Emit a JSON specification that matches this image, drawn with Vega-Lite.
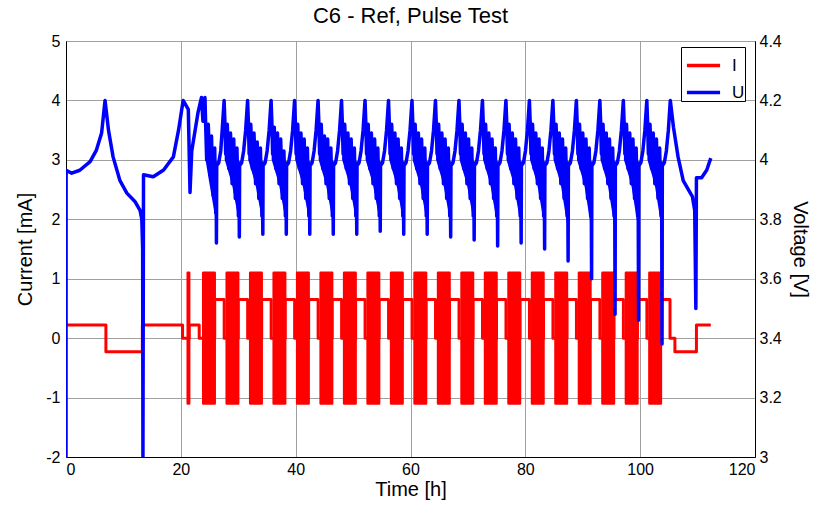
{
"$schema":"https://vega.github.io/schema/vega-lite/v6.json",
"width":689,"height":416,
"autosize":{"type":"none"},
"padding":{"left":66,"top":41,"right":58,"bottom":50},
"background":"white",
"title":{"text":"C6 - Ref, Pulse Test","fontSize":22,"font":"Liberation Sans","fontWeight":"normal","color":"#000","offset":5},
"config":{
 "view":{"stroke":"#000","strokeWidth":1},
 "axis":{"labelFont":"Liberation Sans","titleFont":"Liberation Sans","labelFontSize":16,"titleFontSize":20,"titleFontWeight":"normal","labelColor":"#000","titleColor":"#000","domainColor":"#000","ticks":false,"gridColor":"#a0a0a0","gridOpacity":1,"gridWidth":1},
 "legend":{"labelFont":"Liberation Sans"}
},
"datasets":{
"blk":[{"a":21.2,"b":21.45},{"a":23.9,"b":25.9},{"a":27.99,"b":29.99},{"a":32.08,"b":34.08},{"a":36.17,"b":38.17},{"a":40.26,"b":42.26},{"a":44.35,"b":46.35},{"a":48.44,"b":50.44},{"a":52.53,"b":54.53},{"a":56.62,"b":58.62},{"a":60.71,"b":62.71},{"a":64.8,"b":66.8},{"a":68.89,"b":70.89},{"a":72.98,"b":74.98},{"a":77.07,"b":79.07},{"a":81.16,"b":83.16},{"a":85.25,"b":87.25},{"a":89.34,"b":91.34},{"a":93.43,"b":95.43},{"a":97.52,"b":99.52},{"a":101.61,"b":103.61}],
"band":[
{"k":0,"t":24.3,"hi":4.1,"lo":4.0},{"k":0,"t":24.9,"hi":4.07,"lo":3.93},{"k":0,"t":26.05,"hi":4.0,"lo":3.8},
{"k":1,"t":27.64,"hi":4.11,"lo":4.0},{"k":1,"t":28.89,"hi":4.07,"lo":3.92},{"k":1,"t":30.04,"hi":4.0,"lo":3.8},
{"k":2,"t":31.73,"hi":4.11,"lo":4.0},{"k":2,"t":32.98,"hi":4.07,"lo":3.92},{"k":2,"t":34.13,"hi":4.0,"lo":3.8},
{"k":3,"t":35.82,"hi":4.11,"lo":4.0},{"k":3,"t":37.07,"hi":4.07,"lo":3.92},{"k":3,"t":38.22,"hi":4.0,"lo":3.8},
{"k":4,"t":39.91,"hi":4.11,"lo":4.0},{"k":4,"t":41.16,"hi":4.07,"lo":3.92},{"k":4,"t":42.31,"hi":4.0,"lo":3.8},
{"k":5,"t":44.0,"hi":4.11,"lo":4.0},{"k":5,"t":45.25,"hi":4.07,"lo":3.92},{"k":5,"t":46.4,"hi":4.0,"lo":3.8},
{"k":6,"t":48.09,"hi":4.11,"lo":4.0},{"k":6,"t":49.34,"hi":4.07,"lo":3.92},{"k":6,"t":50.49,"hi":4.0,"lo":3.8},
{"k":7,"t":52.18,"hi":4.11,"lo":4.0},{"k":7,"t":53.43,"hi":4.07,"lo":3.92},{"k":7,"t":54.58,"hi":4.0,"lo":3.8},
{"k":8,"t":56.27,"hi":4.11,"lo":4.0},{"k":8,"t":57.52,"hi":4.07,"lo":3.92},{"k":8,"t":58.67,"hi":4.0,"lo":3.8},
{"k":9,"t":60.36,"hi":4.11,"lo":4.0},{"k":9,"t":61.61,"hi":4.07,"lo":3.92},{"k":9,"t":62.76,"hi":4.0,"lo":3.8},
{"k":10,"t":64.45,"hi":4.11,"lo":4.0},{"k":10,"t":65.7,"hi":4.07,"lo":3.92},{"k":10,"t":66.85,"hi":4.0,"lo":3.8},
{"k":11,"t":68.54,"hi":4.11,"lo":4.0},{"k":11,"t":69.79,"hi":4.07,"lo":3.92},{"k":11,"t":70.94,"hi":4.0,"lo":3.8},
{"k":12,"t":72.63,"hi":4.11,"lo":4.0},{"k":12,"t":73.88,"hi":4.07,"lo":3.92},{"k":12,"t":75.03,"hi":4.0,"lo":3.79},
{"k":13,"t":76.72,"hi":4.11,"lo":4.0},{"k":13,"t":77.97,"hi":4.07,"lo":3.92},{"k":13,"t":79.12,"hi":4.0,"lo":3.79},
{"k":14,"t":80.81,"hi":4.11,"lo":4.0},{"k":14,"t":82.06,"hi":4.07,"lo":3.92},{"k":14,"t":83.21,"hi":4.0,"lo":3.79},
{"k":15,"t":84.9,"hi":4.11,"lo":4.0},{"k":15,"t":86.15,"hi":4.07,"lo":3.92},{"k":15,"t":87.3,"hi":4.0,"lo":3.78},
{"k":16,"t":88.99,"hi":4.11,"lo":4.0},{"k":16,"t":90.24,"hi":4.07,"lo":3.92},{"k":16,"t":91.39,"hi":4.0,"lo":3.78},
{"k":17,"t":93.08,"hi":4.11,"lo":4.0},{"k":17,"t":94.33,"hi":4.07,"lo":3.92},{"k":17,"t":95.48,"hi":4.0,"lo":3.78},
{"k":18,"t":97.17,"hi":4.11,"lo":4.0},{"k":18,"t":98.42,"hi":4.07,"lo":3.92},{"k":18,"t":99.57,"hi":4.0,"lo":3.78},
{"k":19,"t":101.26,"hi":4.11,"lo":4.0},{"k":19,"t":102.51,"hi":4.07,"lo":3.92},{"k":19,"t":103.66,"hi":4.0,"lo":3.78}],
"cur":[{"t":0,"i":0.22},{"t":6.95,"i":0.22},{"t":6.95,"i":-0.23},{"t":13.3,"i":-0.23},{"t":13.3,"i":0.22},{"t":20.3,"i":0.22},{"t":20.3,"i":0},{"t":21.45,"i":0},{"t":21.45,"i":0.22},{"t":23.2,"i":0.22},{"t":23.2,"i":0},
{"t":23.9,"i":0},{"t":25.9,"i":0},{"t":25.9,"i":0.65},{"t":27.55,"i":0.65},{"t":27.55,"i":0},
{"t":27.99,"i":0},{"t":29.99,"i":0},{"t":29.99,"i":0.65},{"t":31.64,"i":0.65},{"t":31.64,"i":0},
{"t":32.08,"i":0},{"t":34.08,"i":0},{"t":34.08,"i":0.65},{"t":35.73,"i":0.65},{"t":35.73,"i":0},
{"t":36.17,"i":0},{"t":38.17,"i":0},{"t":38.17,"i":0.65},{"t":39.82,"i":0.65},{"t":39.82,"i":0},
{"t":40.26,"i":0},{"t":42.26,"i":0},{"t":42.26,"i":0.65},{"t":43.91,"i":0.65},{"t":43.91,"i":0},
{"t":44.35,"i":0},{"t":46.35,"i":0},{"t":46.35,"i":0.65},{"t":48.0,"i":0.65},{"t":48.0,"i":0},
{"t":48.44,"i":0},{"t":50.44,"i":0},{"t":50.44,"i":0.65},{"t":52.09,"i":0.65},{"t":52.09,"i":0},
{"t":52.53,"i":0},{"t":54.53,"i":0},{"t":54.53,"i":0.65},{"t":56.18,"i":0.65},{"t":56.18,"i":0},
{"t":56.62,"i":0},{"t":58.62,"i":0},{"t":58.62,"i":0.65},{"t":60.27,"i":0.65},{"t":60.27,"i":0},
{"t":60.71,"i":0},{"t":62.71,"i":0},{"t":62.71,"i":0.65},{"t":64.36,"i":0.65},{"t":64.36,"i":0},
{"t":64.8,"i":0},{"t":66.8,"i":0},{"t":66.8,"i":0.65},{"t":68.45,"i":0.65},{"t":68.45,"i":0},
{"t":68.89,"i":0},{"t":70.89,"i":0},{"t":70.89,"i":0.65},{"t":72.54,"i":0.65},{"t":72.54,"i":0},
{"t":72.98,"i":0},{"t":74.98,"i":0},{"t":74.98,"i":0.65},{"t":76.63,"i":0.65},{"t":76.63,"i":0},
{"t":77.07,"i":0},{"t":79.07,"i":0},{"t":79.07,"i":0.65},{"t":80.72,"i":0.65},{"t":80.72,"i":0},
{"t":81.16,"i":0},{"t":83.16,"i":0},{"t":83.16,"i":0.65},{"t":84.81,"i":0.65},{"t":84.81,"i":0},
{"t":85.25,"i":0},{"t":87.25,"i":0},{"t":87.25,"i":0.65},{"t":88.9,"i":0.65},{"t":88.9,"i":0},
{"t":89.34,"i":0},{"t":91.34,"i":0},{"t":91.34,"i":0.65},{"t":92.99,"i":0.65},{"t":92.99,"i":0},
{"t":93.43,"i":0},{"t":95.43,"i":0},{"t":95.43,"i":0.65},{"t":97.08,"i":0.65},{"t":97.08,"i":0},
{"t":97.52,"i":0},{"t":99.52,"i":0},{"t":99.52,"i":0.65},{"t":101.17,"i":0.65},{"t":101.17,"i":0},
{"t":101.61,"i":0},{"t":103.61,"i":0},{"t":103.61,"i":0.65},{"t":105.2,"i":0.65},{"t":105.2,"i":0},{"t":106.05,"i":0},{"t":106.05,"i":-0.23},{"t":109.8,"i":-0.23},{"t":109.8,"i":0.22},{"t":112.3,"i":0.22}],
"volt":[{"t":0,"v":3.0},{"t":0.02,"v":3.965},{"t":1.0,"v":3.955},{"t":2.4,"v":3.965},{"t":4.2,"v":3.994},{"t":5.3,"v":4.033},{"t":6.2,"v":4.09},{"t":6.8,"v":4.2},{"t":7.4,"v":4.1},{"t":8.2,"v":4.01},{"t":9.4,"v":3.93},{"t":10.6,"v":3.888},{"t":12.0,"v":3.86},{"t":12.9,"v":3.83},{"t":13.2,"v":3.8},{"t":13.35,"v":3.7},{"t":13.4,"v":3.0},{"t":13.5,"v":3.95},{"t":15.2,"v":3.943},{"t":17.0,"v":3.966},{"t":18.7,"v":4.01},{"t":19.6,"v":4.1},{"t":20.4,"v":4.2},{"t":21.3,"v":4.17},{"t":21.6,"v":3.89},{"t":21.9,"v":4.03},{"t":23.0,"v":4.16},
{"t":23.6,"v":4.21},{"t":23.85,"v":4.13},{"t":24.2,"v":4.21},{"t":24.35,"v":4.1},{"t":24.5,"v":4.0},{"t":24.78,"v":4.12},{"t":25.06,"v":3.95},{"t":25.34,"v":4.08},{"t":25.62,"v":3.88},{"t":25.9,"v":4.04},{"t":26.08,"v":3.82},{"t":26.14,"v":3.99},{"t":26.2,"v":3.72},{"t":26.25,"v":3.98},{"t":26.6,"v":3.99},{"t":26.95,"v":4.03},{"t":27.2,"v":4.1},
{"t":27.54,"v":4.2},{"t":27.67,"v":4.13},{"t":27.81,"v":4.02},{"t":28.09,"v":4.12},{"t":28.37,"v":3.97},{"t":28.65,"v":4.09},{"t":28.93,"v":3.92},{"t":29.21,"v":4.07},{"t":29.49,"v":3.87},{"t":29.77,"v":4.04},{"t":30.03,"v":3.81},{"t":30.11,"v":3.99},{"t":30.19,"v":3.74},{"t":30.24,"v":3.98},{"t":30.59,"v":3.99},{"t":30.94,"v":4.03},{"t":31.29,"v":4.1},
{"t":31.63,"v":4.2},{"t":31.76,"v":4.13},{"t":31.9,"v":4.02},{"t":32.18,"v":4.12},{"t":32.46,"v":3.97},{"t":32.74,"v":4.09},{"t":33.02,"v":3.92},{"t":33.3,"v":4.06},{"t":33.58,"v":3.87},{"t":33.86,"v":4.04},{"t":34.12,"v":3.81},{"t":34.2,"v":3.99},{"t":34.28,"v":3.75},{"t":34.33,"v":3.98},{"t":34.68,"v":3.99},{"t":35.03,"v":4.03},{"t":35.38,"v":4.1},
{"t":35.72,"v":4.2},{"t":35.85,"v":4.13},{"t":35.99,"v":4.02},{"t":36.27,"v":4.11},{"t":36.55,"v":3.97},{"t":36.83,"v":4.09},{"t":37.11,"v":3.92},{"t":37.39,"v":4.07},{"t":37.67,"v":3.87},{"t":37.95,"v":4.03},{"t":38.21,"v":3.81},{"t":38.29,"v":3.99},{"t":38.37,"v":3.75},{"t":38.42,"v":3.98},{"t":38.77,"v":3.99},{"t":39.12,"v":4.03},{"t":39.47,"v":4.1},
{"t":39.81,"v":4.2},{"t":39.94,"v":4.13},{"t":40.08,"v":4.02},{"t":40.36,"v":4.12},{"t":40.64,"v":3.97},{"t":40.92,"v":4.09},{"t":41.2,"v":3.92},{"t":41.48,"v":4.07},{"t":41.76,"v":3.87},{"t":42.04,"v":4.04},{"t":42.3,"v":3.81},{"t":42.38,"v":3.99},{"t":42.46,"v":3.75},{"t":42.51,"v":3.98},{"t":42.86,"v":3.99},{"t":43.21,"v":4.03},{"t":43.56,"v":4.1},
{"t":43.9,"v":4.2},{"t":44.03,"v":4.13},{"t":44.17,"v":4.02},{"t":44.45,"v":4.12},{"t":44.73,"v":3.97},{"t":45.01,"v":4.08},{"t":45.29,"v":3.92},{"t":45.57,"v":4.07},{"t":45.85,"v":3.87},{"t":46.13,"v":4.04},{"t":46.39,"v":3.81},{"t":46.47,"v":3.99},{"t":46.55,"v":3.75},{"t":46.6,"v":3.98},{"t":46.95,"v":3.99},{"t":47.3,"v":4.03},{"t":47.65,"v":4.1},
{"t":47.99,"v":4.2},{"t":48.12,"v":4.13},{"t":48.26,"v":4.02},{"t":48.54,"v":4.12},{"t":48.82,"v":3.97},{"t":49.1,"v":4.09},{"t":49.38,"v":3.92},{"t":49.66,"v":4.07},{"t":49.94,"v":3.87},{"t":50.22,"v":4.04},{"t":50.48,"v":3.81},{"t":50.56,"v":3.99},{"t":50.64,"v":3.75},{"t":50.69,"v":3.98},{"t":51.04,"v":3.99},{"t":51.39,"v":4.03},{"t":51.74,"v":4.1},
{"t":52.08,"v":4.2},{"t":52.21,"v":4.13},{"t":52.35,"v":4.02},{"t":52.63,"v":4.12},{"t":52.91,"v":3.97},{"t":53.19,"v":4.09},{"t":53.47,"v":3.92},{"t":53.75,"v":4.07},{"t":54.03,"v":3.87},{"t":54.31,"v":4.04},{"t":54.57,"v":3.81},{"t":54.65,"v":3.99},{"t":54.73,"v":3.76},{"t":54.78,"v":3.98},{"t":55.13,"v":3.99},{"t":55.48,"v":4.03},{"t":55.83,"v":4.1},
{"t":56.17,"v":4.2},{"t":56.3,"v":4.13},{"t":56.44,"v":4.02},{"t":56.72,"v":4.12},{"t":57.0,"v":3.97},{"t":57.28,"v":4.09},{"t":57.56,"v":3.92},{"t":57.84,"v":4.07},{"t":58.12,"v":3.87},{"t":58.4,"v":4.04},{"t":58.66,"v":3.81},{"t":58.74,"v":3.99},{"t":58.82,"v":3.75},{"t":58.87,"v":3.98},{"t":59.22,"v":3.99},{"t":59.57,"v":4.03},{"t":59.92,"v":4.1},
{"t":60.26,"v":4.2},{"t":60.39,"v":4.13},{"t":60.53,"v":4.02},{"t":60.81,"v":4.12},{"t":61.09,"v":3.97},{"t":61.37,"v":4.09},{"t":61.65,"v":3.92},{"t":61.93,"v":4.07},{"t":62.21,"v":3.87},{"t":62.49,"v":4.04},{"t":62.75,"v":3.81},{"t":62.83,"v":3.99},{"t":62.91,"v":3.75},{"t":62.96,"v":3.98},{"t":63.31,"v":3.99},{"t":63.66,"v":4.03},{"t":64.01,"v":4.1},
{"t":64.35,"v":4.2},{"t":64.48,"v":4.13},{"t":64.62,"v":4.02},{"t":64.9,"v":4.12},{"t":65.18,"v":3.97},{"t":65.46,"v":4.09},{"t":65.74,"v":3.92},{"t":66.02,"v":4.07},{"t":66.3,"v":3.87},{"t":66.58,"v":4.04},{"t":66.84,"v":3.81},{"t":66.92,"v":3.99},{"t":67.0,"v":3.74},{"t":67.05,"v":3.98},{"t":67.4,"v":3.99},{"t":67.75,"v":4.03},{"t":68.1,"v":4.1},
{"t":68.44,"v":4.2},{"t":68.57,"v":4.13},{"t":68.71,"v":4.02},{"t":68.99,"v":4.12},{"t":69.27,"v":3.97},{"t":69.55,"v":4.09},{"t":69.83,"v":3.92},{"t":70.11,"v":4.07},{"t":70.39,"v":3.87},{"t":70.67,"v":4.04},{"t":70.93,"v":3.81},{"t":71.01,"v":3.99},{"t":71.09,"v":3.73},{"t":71.14,"v":3.98},{"t":71.49,"v":3.99},{"t":71.84,"v":4.03},{"t":72.19,"v":4.1},
{"t":72.53,"v":4.2},{"t":72.66,"v":4.13},{"t":72.8,"v":4.02},{"t":73.08,"v":4.12},{"t":73.36,"v":3.97},{"t":73.64,"v":4.09},{"t":73.92,"v":3.92},{"t":74.2,"v":4.07},{"t":74.48,"v":3.87},{"t":74.76,"v":4.04},{"t":75.02,"v":3.81},{"t":75.1,"v":3.99},{"t":75.18,"v":3.71},{"t":75.23,"v":3.98},{"t":75.58,"v":3.99},{"t":75.93,"v":4.03},{"t":76.28,"v":4.1},
{"t":76.62,"v":4.2},{"t":76.75,"v":4.13},{"t":76.89,"v":4.02},{"t":77.17,"v":4.12},{"t":77.45,"v":3.97},{"t":77.73,"v":4.09},{"t":78.01,"v":3.92},{"t":78.29,"v":4.07},{"t":78.57,"v":3.87},{"t":78.85,"v":4.04},{"t":79.11,"v":3.81},{"t":79.19,"v":3.99},{"t":79.27,"v":3.72},{"t":79.32,"v":3.98},{"t":79.67,"v":3.99},{"t":80.02,"v":4.03},{"t":80.37,"v":4.1},
{"t":80.71,"v":4.2},{"t":80.84,"v":4.13},{"t":80.98,"v":4.02},{"t":81.26,"v":4.12},{"t":81.54,"v":3.97},{"t":81.82,"v":4.09},{"t":82.1,"v":3.92},{"t":82.38,"v":4.07},{"t":82.66,"v":3.87},{"t":82.94,"v":4.04},{"t":83.2,"v":3.81},{"t":83.28,"v":3.99},{"t":83.36,"v":3.7},{"t":83.41,"v":3.98},{"t":83.76,"v":3.99},{"t":84.11,"v":4.03},{"t":84.46,"v":4.1},
{"t":84.8,"v":4.2},{"t":84.93,"v":4.13},{"t":85.07,"v":4.02},{"t":85.35,"v":4.12},{"t":85.63,"v":3.97},{"t":85.91,"v":4.09},{"t":86.19,"v":3.92},{"t":86.47,"v":4.07},{"t":86.75,"v":3.87},{"t":87.03,"v":4.04},{"t":87.29,"v":3.81},{"t":87.37,"v":3.99},{"t":87.45,"v":3.66},{"t":87.5,"v":3.98},{"t":87.85,"v":3.99},{"t":88.2,"v":4.03},{"t":88.55,"v":4.1},
{"t":88.89,"v":4.2},{"t":89.02,"v":4.13},{"t":89.16,"v":4.02},{"t":89.44,"v":4.12},{"t":89.72,"v":3.97},{"t":90.0,"v":4.09},{"t":90.28,"v":3.92},{"t":90.56,"v":4.07},{"t":90.84,"v":3.87},{"t":91.12,"v":4.04},{"t":91.38,"v":3.81},{"t":91.46,"v":3.99},{"t":91.54,"v":3.6},{"t":91.59,"v":3.98},{"t":91.94,"v":3.99},{"t":92.29,"v":4.03},{"t":92.64,"v":4.1},
{"t":92.98,"v":4.2},{"t":93.11,"v":4.13},{"t":93.25,"v":4.02},{"t":93.53,"v":4.12},{"t":93.81,"v":3.97},{"t":94.09,"v":4.09},{"t":94.37,"v":3.92},{"t":94.65,"v":4.07},{"t":94.93,"v":3.87},{"t":95.21,"v":4.04},{"t":95.47,"v":3.81},{"t":95.55,"v":3.99},{"t":95.63,"v":3.48},{"t":95.68,"v":3.98},{"t":96.03,"v":3.99},{"t":96.38,"v":4.03},{"t":96.73,"v":4.1},
{"t":97.07,"v":4.2},{"t":97.2,"v":4.13},{"t":97.34,"v":4.02},{"t":97.62,"v":4.12},{"t":97.9,"v":3.97},{"t":98.18,"v":4.09},{"t":98.46,"v":3.92},{"t":98.74,"v":4.07},{"t":99.02,"v":3.87},{"t":99.3,"v":4.04},{"t":99.56,"v":3.81},{"t":99.64,"v":3.99},{"t":99.72,"v":3.46},{"t":99.77,"v":3.98},{"t":100.12,"v":3.99},{"t":100.47,"v":4.03},{"t":100.82,"v":4.1},
{"t":101.16,"v":4.2},{"t":101.29,"v":4.13},{"t":101.43,"v":4.02},{"t":101.71,"v":4.12},{"t":101.99,"v":3.97},{"t":102.27,"v":4.09},{"t":102.55,"v":3.92},{"t":102.83,"v":4.07},{"t":103.11,"v":3.87},{"t":103.39,"v":4.04},{"t":103.65,"v":3.81},{"t":103.73,"v":3.99},{"t":103.81,"v":3.38},{"t":103.86,"v":3.98},{"t":104.21,"v":3.99},{"t":104.56,"v":4.03},{"t":104.91,"v":4.1},
{"t":105.25,"v":4.2},{"t":105.8,"v":4.11},{"t":106.6,"v":4.01},{"t":107.5,"v":3.93},{"t":108.4,"v":3.9},{"t":109.1,"v":3.876},{"t":109.5,"v":3.83},{"t":109.7,"v":3.5},{"t":109.8,"v":3.94},{"t":110.7,"v":3.94},{"t":111.6,"v":3.966},{"t":112.3,"v":4.006}]
},
"layer":[
 {"layer":[
  {"data":{"name":"blk"},
   "mark":{"type":"rect","color":"#ff0000","stroke":"#ff0000","strokeWidth":2.5,"strokeJoin":"round","clip":true},
   "encoding":{
    "x":{"field":"a","type":"quantitative","scale":{"domain":[0,120],"nice":false,"zero":false},"axis":{"values":[0,20,40,60,80,100,120],"title":"Time [h]","grid":true,"labelPadding":4,"titlePadding":2}},
    "x2":{"field":"b"},
    "y":{"datum":1.1,"type":"quantitative","scale":{"domain":[-2,5],"nice":false,"zero":false},"axis":{"values":[-2,-1,0,1,2,3,4,5],"title":"Current [mA]","grid":true,"labelExpr":"'' + datum.value","labelPadding":6,"titlePadding":10}},
    "y2":{"datum":-1.1}
   }},
  {"data":{"name":"cur"},
   "mark":{"type":"line","strokeWidth":3,"strokeJoin":"round","clip":true},
   "encoding":{
    "x":{"field":"t","type":"quantitative"},
    "y":{"field":"i","type":"quantitative"},
    "order":{"value":null},
    "color":{"datum":"I","type":"nominal","scale":{"domain":["I","U"],"range":["#ff0000","#0000ff"]},
      "legend":{"title":null,"orient":"none","legendX":615,"legendY":6,"symbolType":"stroke","symbolSize":1100,"symbolStrokeWidth":3.5,"symbolOffset":4,"labelFontSize":17,"labelColor":"#000","strokeColor":"#000","fillColor":"#fff","padding":0,"rowPadding":-10,"labelOffset":10}}
   }}
 ]},
 {"layer":[
  {"data":{"name":"band"},
   "mark":{"type":"area","color":"#0000ff","clip":true},
   "encoding":{
    "x":{"field":"t","type":"quantitative"},
    "y":{"field":"hi","type":"quantitative","scale":{"domain":[3,4.4],"nice":false,"zero":false},"axis":{"orient":"right","values":[3,3.2,3.4,3.6,3.8,4,4.2,4.4],"title":"Voltage [V]","grid":false,"labelExpr":"'' + datum.value","labelPadding":4,"titlePadding":8}},
    "y2":{"field":"lo"},
    "detail":{"field":"k","type":"nominal"}
   }},
  {"data":{"name":"volt"},
   "mark":{"type":"line","strokeWidth":3.5,"strokeJoin":"round","clip":true},
   "encoding":{
    "x":{"field":"t","type":"quantitative"},
    "y":{"field":"v","type":"quantitative","scale":{"domain":[3,4.4],"nice":false,"zero":false},"axis":{"orient":"right","values":[3,3.2,3.4,3.6,3.8,4,4.2,4.4],"title":"Voltage [V]","grid":false,"labelExpr":"'' + datum.value","labelPadding":4,"titlePadding":8}},
    "order":{"value":null},
    "color":{"datum":"U","type":"nominal"}
   }}
 ]}
],
"resolve":{"scale":{"y":"independent"}}
}
